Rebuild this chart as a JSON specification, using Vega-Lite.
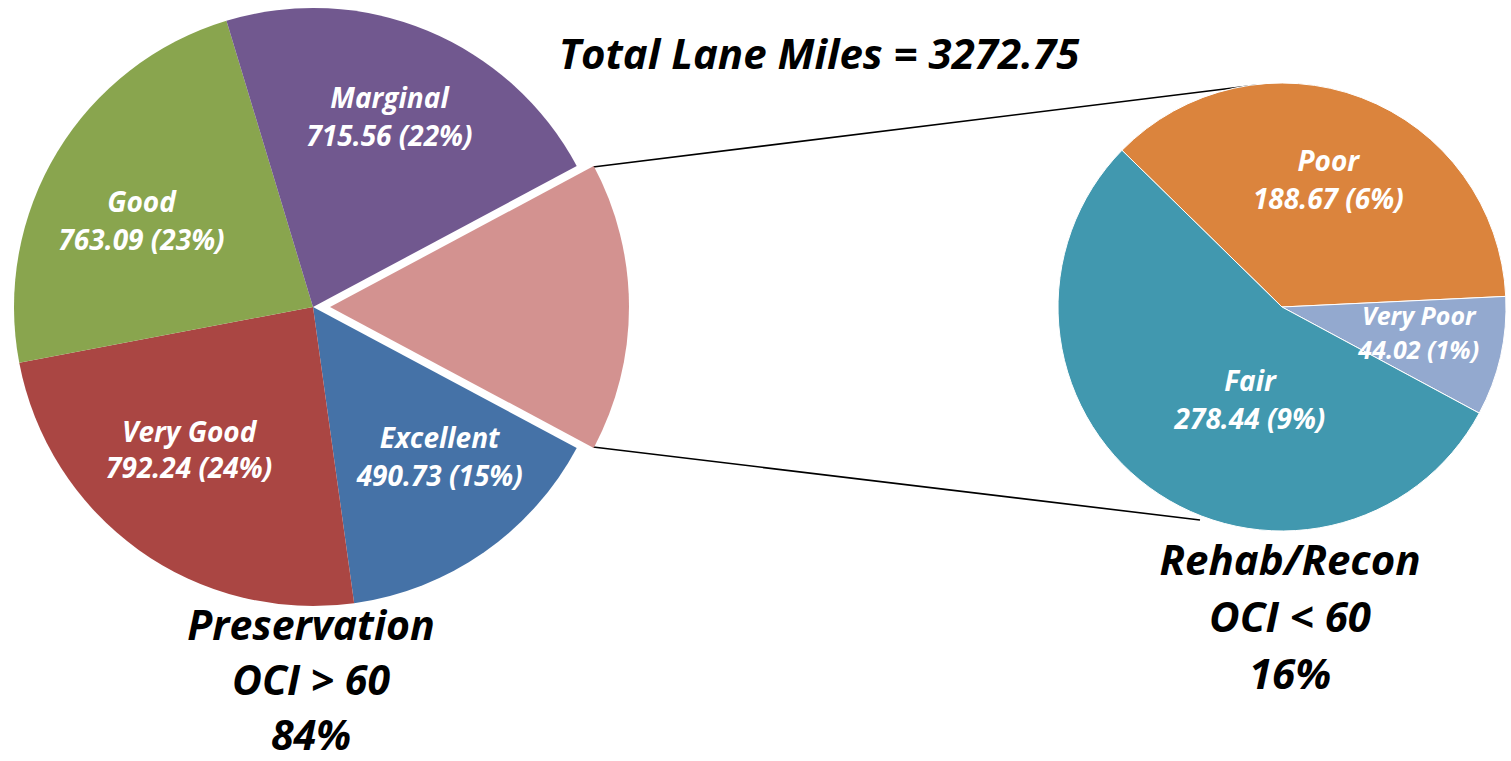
{
  "$schema": "https://vega.github.io/schema/vega-lite/v6.json",
  "width": 1511,
  "height": 761,
  "autosize": {"type": "fit", "contains": "padding"},
  "padding": 0,
  "background": "white",
  "config": {"view": {"stroke": null}, "text": {"font": "Open Sans", "fontWeight": "bold", "fontStyle": "italic"}},
  "datasets": {
    "left": [
      {"label": "Other", "value": 511.13},
      {"label": "Excellent", "value": 490.73},
      {"label": "Very Good", "value": 792.24},
      {"label": "Good", "value": 763.09},
      {"label": "Marginal", "value": 715.56}
    ],
    "right": [
      {"label": "Poor", "value": 188.67},
      {"label": "Very Poor", "value": 44.02},
      {"label": "Fair", "value": 278.44}
    ],
    "links": [
      {"x": 593, "y": 167, "x2": 1257, "y2": 85},
      {"x": 593, "y": 447, "x2": 1200, "y2": 520}
    ]
  },
  "layer": [
    {
      "data": {"name": "links"},
      "mark": {"type": "rule", "stroke": "black", "strokeWidth": 1.6},
      "encoding": {
        "x": {"field": "x", "type": "quantitative", "scale": {"domain": [0, 1511], "nice": false, "zero": false}, "axis": null},
        "y": {"field": "y", "type": "quantitative", "scale": {"domain": [0, 761], "reverse": true, "nice": false, "zero": false}, "axis": null},
        "x2": {"field": "x2"},
        "y2": {"field": "y2"}
      }
    },
    {
      "data": {"name": "left"},
      "transform": [{"window": [{"op": "row_number", "as": "k"}]}],
      "mark": {"type": "arc", "radius": 299},
      "encoding": {
        "x": {"datum": 313, "type": "quantitative"},
        "y": {"datum": 307, "type": "quantitative"},
        "theta": {"field": "value", "type": "quantitative", "stack": true, "scale": {"range": [1.080146, 7.363331]}},
        "order": {"field": "k", "type": "quantitative"},
        "color": {
          "field": "label", "type": "nominal", "legend": null,
          "scale": {
            "domain": ["Marginal", "Good", "Very Good", "Excellent", "Other", "Poor", "Very Poor", "Fair"],
            "range": ["#71588F", "#89A54E", "#AA4643", "#4572A7", "#D39290", "#DB843D", "#93A9CF", "#4198AF"]
          }
        },
        "opacity": {"condition": {"test": "datum.label === 'Other'", "value": 0}, "value": 1}
      }
    },
    {
      "data": {"name": "left"},
      "transform": [{"window": [{"op": "row_number", "as": "k"}]}],
      "mark": {"type": "arc", "radius": 299},
      "encoding": {
        "x": {"datum": 330, "type": "quantitative"},
        "y": {"datum": 307, "type": "quantitative"},
        "theta": {"field": "value", "type": "quantitative", "stack": true, "scale": {"range": [1.080146, 7.363331]}},
        "order": {"field": "k", "type": "quantitative"},
        "color": {"field": "label", "type": "nominal", "legend": null},
        "opacity": {"condition": {"test": "datum.label === 'Other'", "value": 1}, "value": 0}
      }
    },
    {
      "data": {"name": "right"},
      "transform": [{"window": [{"op": "row_number", "as": "k"}]}],
      "mark": {"type": "arc", "radius": 224, "stroke": "white", "strokeWidth": 1},
      "encoding": {
        "x": {"datum": 1282, "type": "quantitative"},
        "y": {"datum": 307, "type": "quantitative"},
        "theta": {"field": "value", "type": "quantitative", "stack": true, "scale": {"range": [5.4873, 11.7705]}},
        "order": {"field": "k", "type": "quantitative"},
        "color": {"field": "label", "type": "nominal", "legend": null}
      }
    },
    {
      "data": {"name": "left"},
      "transform": [
        {"window": [{"op": "row_number", "as": "k"}]},
        {"calculate": "[datum.label, format(datum.value, '.2f') + ' (' + format(datum.value / 3272.75, '.0%') + ')']", "as": "txt"}
      ],
      "mark": {"type": "text", "radius": 197, "dx": 1, "dy": -17, "fontSize": 28, "fill": "white", "lineHeight": 38, "align": "center", "baseline": "alphabetic"},
      "encoding": {
        "x": {"datum": 313, "type": "quantitative"},
        "y": {"datum": 307, "type": "quantitative"},
        "theta": {"field": "value", "type": "quantitative", "stack": true, "scale": {"range": [1.080146, 7.363331]}},
        "order": {"field": "k", "type": "quantitative"},
        "text": {"condition": {"test": "datum.label === 'Marginal'", "field": "txt"}, "value": ""}
      }
    },
    {
      "data": {"name": "left"},
      "transform": [
        {"window": [{"op": "row_number", "as": "k"}]},
        {"calculate": "[datum.label, format(datum.value, '.2f') + ' (' + format(datum.value / 3272.75, '.0%') + ')']", "as": "txt"}
      ],
      "mark": {"type": "text", "radius": 197, "dx": -3, "dy": 7, "fontSize": 28, "fill": "white", "lineHeight": 38, "align": "center", "baseline": "alphabetic"},
      "encoding": {
        "x": {"datum": 313, "type": "quantitative"},
        "y": {"datum": 307, "type": "quantitative"},
        "theta": {"field": "value", "type": "quantitative", "stack": true, "scale": {"range": [1.080146, 7.363331]}},
        "order": {"field": "k", "type": "quantitative"},
        "text": {"condition": {"test": "datum.label === 'Good'", "field": "txt"}, "value": ""}
      }
    },
    {
      "data": {"name": "left"},
      "transform": [
        {"window": [{"op": "row_number", "as": "k"}]},
        {"calculate": "[datum.label, format(datum.value, '.2f') + ' (' + format(datum.value / 3272.75, '.0%') + ')']", "as": "txt"}
      ],
      "mark": {"type": "text", "radius": 197, "dx": -9, "dy": -25, "fontSize": 28, "fill": "white", "lineHeight": 36, "align": "center", "baseline": "alphabetic"},
      "encoding": {
        "x": {"datum": 313, "type": "quantitative"},
        "y": {"datum": 307, "type": "quantitative"},
        "theta": {"field": "value", "type": "quantitative", "stack": true, "scale": {"range": [1.080146, 7.363331]}},
        "order": {"field": "k", "type": "quantitative"},
        "text": {"condition": {"test": "datum.label === 'Very Good'", "field": "txt"}, "value": ""}
      }
    },
    {
      "data": {"name": "left"},
      "transform": [
        {"window": [{"op": "row_number", "as": "k"}]},
        {"calculate": "[datum.label, format(datum.value, '.2f') + ' (' + format(datum.value / 3272.75, '.0%') + ')']", "as": "txt"}
      ],
      "mark": {"type": "text", "radius": 197, "dx": 14, "dy": -21, "fontSize": 28, "fill": "white", "lineHeight": 38, "align": "center", "baseline": "alphabetic"},
      "encoding": {
        "x": {"datum": 313, "type": "quantitative"},
        "y": {"datum": 307, "type": "quantitative"},
        "theta": {"field": "value", "type": "quantitative", "stack": true, "scale": {"range": [1.080146, 7.363331]}},
        "order": {"field": "k", "type": "quantitative"},
        "text": {"condition": {"test": "datum.label === 'Excellent'", "field": "txt"}, "value": ""}
      }
    },
    {
      "data": {"name": "right"},
      "transform": [
        {"window": [{"op": "row_number", "as": "k"}]},
        {"calculate": "[datum.label, format(datum.value, '.2f') + ' (' + format(datum.value / 3272.75, '.0%') + ')']", "as": "txt"}
      ],
      "mark": {"type": "text", "radius": 130, "dx": 0, "dy": -15, "fontSize": 28, "fill": "white", "lineHeight": 38, "align": "center", "baseline": "alphabetic"},
      "encoding": {
        "x": {"datum": 1282, "type": "quantitative"},
        "y": {"datum": 307, "type": "quantitative"},
        "theta": {"field": "value", "type": "quantitative", "stack": true, "scale": {"range": [5.4873, 11.7705]}},
        "order": {"field": "k", "type": "quantitative"},
        "text": {"condition": {"test": "datum.label === 'Poor'", "field": "txt"}, "value": ""}
      }
    },
    {
      "data": {"name": "right"},
      "transform": [
        {"window": [{"op": "row_number", "as": "k"}]},
        {"calculate": "[datum.label, format(datum.value, '.2f') + ' (' + format(datum.value / 3272.75, '.0%') + ')']", "as": "txt"}
      ],
      "mark": {"type": "text", "radius": 130, "dx": 10, "dy": -11, "fontSize": 25, "fill": "white", "lineHeight": 34, "align": "center", "baseline": "alphabetic"},
      "encoding": {
        "x": {"datum": 1282, "type": "quantitative"},
        "y": {"datum": 307, "type": "quantitative"},
        "theta": {"field": "value", "type": "quantitative", "stack": true, "scale": {"range": [5.4873, 11.7705]}},
        "order": {"field": "k", "type": "quantitative"},
        "text": {"condition": {"test": "datum.label === 'Very Poor'", "field": "txt"}, "value": ""}
      }
    },
    {
      "data": {"name": "right"},
      "transform": [
        {"window": [{"op": "row_number", "as": "k"}]},
        {"calculate": "[datum.label, format(datum.value, '.2f') + ' (' + format(datum.value / 3272.75, '.0%') + ')']", "as": "txt"}
      ],
      "mark": {"type": "text", "radius": 130, "dx": 45, "dy": -21, "fontSize": 28, "fill": "white", "lineHeight": 38, "align": "center", "baseline": "alphabetic"},
      "encoding": {
        "x": {"datum": 1282, "type": "quantitative"},
        "y": {"datum": 307, "type": "quantitative"},
        "theta": {"field": "value", "type": "quantitative", "stack": true, "scale": {"range": [5.4873, 11.7705]}},
        "order": {"field": "k", "type": "quantitative"},
        "text": {"condition": {"test": "datum.label === 'Fair'", "field": "txt"}, "value": ""}
      }
    },
    {
      "data": {"values": [{"t": "Total Lane Miles = 3272.75"}]},
      "mark": {"type": "text", "fontSize": 42, "fill": "black", "align": "center", "baseline": "alphabetic"},
      "encoding": {
        "x": {"datum": 819, "type": "quantitative"},
        "y": {"datum": 69, "type": "quantitative"},
        "text": {"field": "t"}
      }
    },
    {
      "data": {"values": [{"t": ["Preservation", "OCI > 60", "84%"]}]},
      "mark": {"type": "text", "fontSize": 41, "fill": "black", "align": "center", "baseline": "alphabetic", "lineHeight": 55},
      "encoding": {
        "x": {"datum": 311, "type": "quantitative"},
        "y": {"datum": 640, "type": "quantitative"},
        "text": {"field": "t"}
      }
    },
    {
      "data": {"values": [{"t": ["Rehab/Recon", "OCI < 60", "16%"]}]},
      "mark": {"type": "text", "fontSize": 42, "fill": "black", "align": "center", "baseline": "alphabetic", "lineHeight": 57},
      "encoding": {
        "x": {"datum": 1290, "type": "quantitative"},
        "y": {"datum": 575, "type": "quantitative"},
        "text": {"field": "t"}
      }
    }
  ],
  "resolve": {"scale": {"theta": "independent"}}
}
